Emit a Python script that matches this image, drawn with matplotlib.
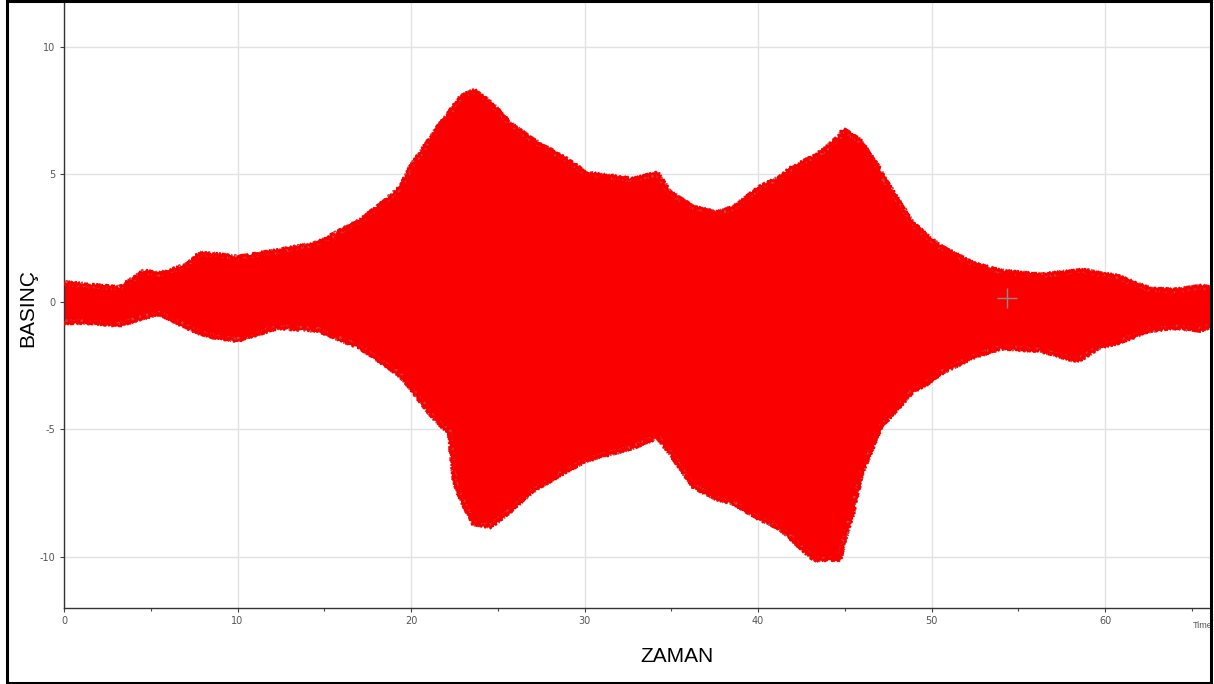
import matplotlib.pyplot as plt
from matplotlib.patches import Rectangle

plt.rcParams['axes.unicode_minus'] = False

# envelope of the pressure signal
t = [0, 1.5, 3.2, 4.6, 5.5, 7.1, 7.8, 8.8, 10, 12.3, 14.6, 15.7, 17.1, 18.4,
     19.4, 19.9, 20.9, 21.5, 22.2, 22.5, 22.8, 23.6, 24.6, 25.7, 27.0, 29.0,
     30.1, 32.8, 34.2, 34.9, 36.3, 37.6, 38.6, 40.1, 41.3, 41.8, 43.2, 43.8,
     44.7, 44.9, 45.5, 45.9, 46.1, 47.0, 47.2, 48.9, 49.7, 50.5, 52.4, 54.0,
     56.3, 58.3, 58.7, 59.7, 60.7, 62.6, 64.0, 65.5, 66.2]
upper = [0.75, 0.65, 0.55, 1.2, 1.1, 1.45, 1.9, 1.85, 1.75, 2.0, 2.3, 2.7, 3.2, 3.9,
         4.5, 5.2, 6.2, 6.8, 7.4, 7.7, 8.0, 8.3, 7.8, 7.0, 6.35, 5.57,
         5.05, 4.8, 5.05, 4.3, 3.7, 3.5, 3.7, 4.5, 4.9, 5.2, 5.7, 5.95,
         6.5, 6.75, 6.5, 6.3, 6.1, 5.2, 4.9, 3.1, 2.6, 2.17, 1.5, 1.2,
         1.05, 1.2, 1.25, 1.1, 1.0, 0.5, 0.45, 0.6, 0.55]
lower = [-0.8, -0.8, -0.9, -0.6, -0.45, -1.0, -1.2, -1.4, -1.5, -1.0, -1.1, -1.4, -1.8, -2.4,
         -2.9, -3.3, -4.2, -4.7, -5.1, -7.0, -7.6, -8.7, -8.8, -8.2, -7.4, -6.6,
         -6.2, -5.7, -5.3, -5.9, -7.25, -7.7, -7.9, -8.5, -8.9, -9.2, -10.1, -10.1,
         -10.1, -9.5, -8.15, -6.85, -6.5, -5.0, -4.8, -3.5, -3.2, -2.8, -2.15, -1.8,
         -1.9, -2.3, -2.2, -1.75, -1.6, -1.1, -1.0, -1.1, -0.9]

x_ticks = [0, 10, 20, 30, 40, 50, 60]
y_ticks = [-10, -5, 0, 5, 10]
cursor_x, cursor_y = 54.35, 0.15

fig = plt.figure(figsize=(12.14, 6.84), dpi=100)
ax = fig.add_axes([64 / 1214, 76 / 684, (1211 - 64) / 1214, 607 / 684])

ax.fill_between(t, lower, upper, facecolor='#fb0000', edgecolor='none', zorder=2)
# spiky outline on both edges of the band
for edge in (upper, lower):
    ln, = ax.plot(t, edge, color='#c04848', linewidth=1.0, zorder=2.5)
    ln.set_sketch_params(scale=2.5, length=1.5, randomness=2)
    ln2, = ax.plot(t, edge, color='#fb0000', linewidth=1.6, zorder=2.6)
    ln2.set_sketch_params(scale=2.0, length=2.5, randomness=2)
ax.plot([cursor_x], [cursor_y], marker='+', markersize=14, color='#8a8a8a', mew=1, zorder=3)

ax.set_xlim(0, 66.1)
ax.set_ylim(-12, 11.8)
ax.set_xticks(x_ticks)
ax.set_xticks([5, 15, 25, 35, 45, 55, 65], minor=True)
ax.set_yticks(y_ticks)
ax.grid(True, color='#e2e2e2', linewidth=1, zorder=0)
ax.set_axisbelow(True)
ax.tick_params(which='both', direction='out', length=3, width=0.8, colors='#444444',
               labelsize=7, labelcolor='#555555', pad=3)
ax.tick_params(which='minor', length=2)
for s in ['top', 'right']:
    ax.spines[s].set_visible(False)
for s in ['left', 'bottom']:
    ax.spines[s].set_color('#333333')
    ax.spines[s].set_linewidth(1)

fig.text(28 / 1214, 1 - 308 / 684, 'BASINÇ', rotation=90, fontsize=15,
         family='Liberation Sans', ha='center', va='center')
fig.text(677 / 1214, 1 - 657 / 684, 'ZAMAN', fontsize=15,
         family='Liberation Sans', ha='center', va='center')
fig.text(1193 / 1214, 1 - 626 / 684, 'Time', fontsize=6.5, color='#555555',
         family='Liberation Sans', ha='left', va='center')

# black frame round the whole picture
fig.patches.append(Rectangle((7 / 1214, 1 / 684), (1211 - 7) / 1214, 682 / 684,
                             transform=fig.transFigure, fill=False,
                             edgecolor='black', linewidth=2.2, zorder=10))

fig.savefig('out.png', dpi=100)
